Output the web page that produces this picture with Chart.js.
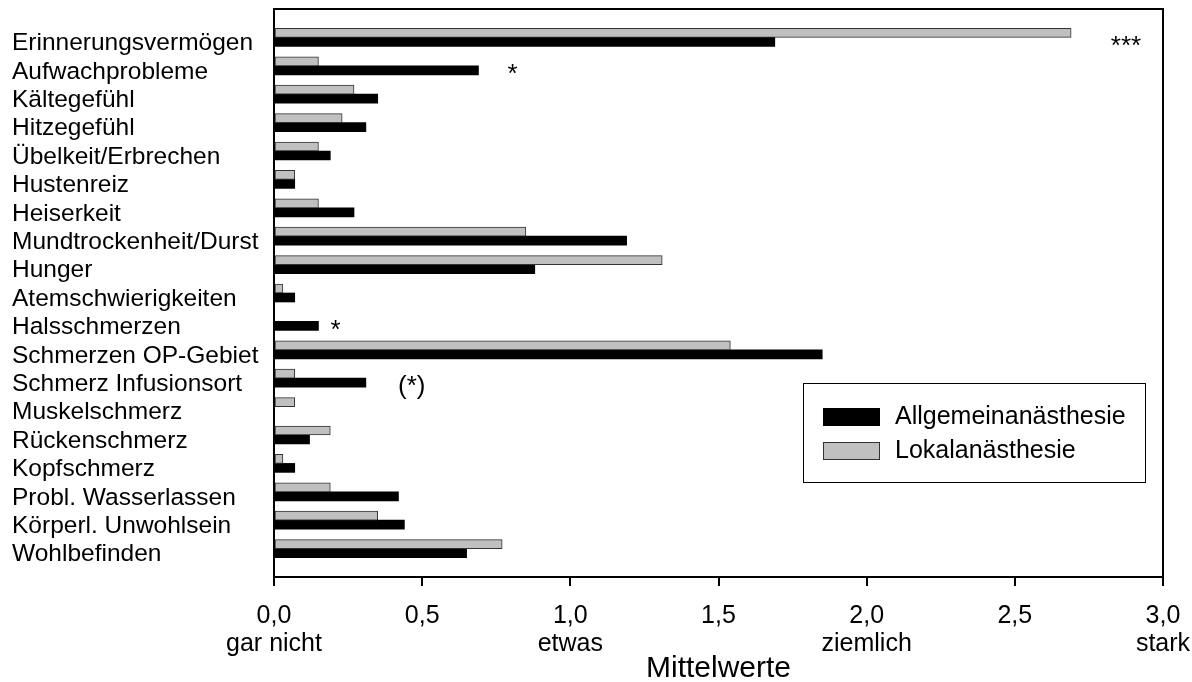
<!DOCTYPE html>
<html>
<head>
<meta charset="utf-8">
<script src="https://cdn.jsdelivr.net/npm/chart.js@4/dist/chart.umd.min.js"></script>
<style>
  html, body { margin: 0; padding: 0; background: #ffffff; }
  #wrap { width: 1192px; height: 682px; }
</style>
</head>
<body>
<div id="wrap"><canvas id="c" width="1192" height="682"></canvas></div>
<script>
const categories = [
  'Erinnerungsvermögen', 'Aufwachprobleme', 'Kältegefühl', 'Hitzegefühl',
  'Übelkeit/Erbrechen', 'Hustenreiz', 'Heiserkeit', 'Mundtrockenheit/Durst',
  'Hunger', 'Atemschwierigkeiten', 'Halsschmerzen', 'Schmerzen OP-Gebiet',
  'Schmerz Infusionsort', 'Muskelschmerz', 'Rückenschmerz', 'Kopfschmerz',
  'Probl. Wasserlassen', 'Körperl. Unwohlsein', 'Wohlbefinden'
];
const allgemein = [1.69, 0.69, 0.35, 0.31, 0.19, 0.07, 0.27, 1.19, 0.88, 0.07, 0.15, 1.85, 0.31, 0, 0.12, 0.07, 0.42, 0.44, 0.65];
const lokal     = [2.69, 0.15, 0.27, 0.23, 0.15, 0.07, 0.15, 0.85, 1.31, 0.03, 0, 1.54, 0.07, 0.07, 0.19, 0.03, 0.19, 0.35, 0.77];
const seriesNames = ['Allgemeinanästhesie', 'Lokalanästhesie'];
const xTickNumbers = ['0,0', '0,5', '1,0', '1,5', '2,0', '2,5', '3,0'];
const xTickWords = ['gar nicht', '', 'etwas', '', 'ziemlich', '', 'stark'];
const xTitle = 'Mittelwerte';
const sigRows = [0, 1, 10, 12];
const sigValues = [2.875, 0.805, 0.208, 0.465];
const sigMarks = ['***', '*', '*', '(*)'];

const FONT = "'Liberation Sans', Arial, sans-serif";

const framePlugin = {
  id: 'frame',
  afterDatasetsDraw(chart) {
    const a = chart.chartArea, ctx = chart.ctx;
    ctx.save();
    ctx.strokeStyle = '#000';
    ctx.lineWidth = 2;
    ctx.beginPath();
    ctx.moveTo(a.left, a.top); ctx.lineTo(a.right, a.top); ctx.lineTo(a.right, a.bottom);
    ctx.stroke();
    ctx.restore();
  }
};

const sigPlugin = {
  id: 'sig',
  afterDatasetsDraw(chart) {
    const ctx = chart.ctx, xs = chart.scales.x, ys = chart.scales.y;
    ctx.save();
    ctx.fillStyle = '#000';
    ctx.font = '26px ' + FONT;
    ctx.textAlign = 'center';
    ctx.textBaseline = 'middle';
    sigRows.forEach((r, i) => {
      ctx.fillText(sigMarks[i], xs.getPixelForValue(sigValues[i]), ys.getPixelForValue(r) + 9);
    });
    ctx.restore();
  }
};

const boxLegendPlugin = {
  id: 'boxLegend',
  afterDraw(chart) {
    const ctx = chart.ctx;
    const bx = 803, by = 383, bw = 342, bh = 99;
    ctx.save();
    ctx.fillStyle = '#fff';
    ctx.fillRect(bx, by, bw, bh);
    ctx.strokeStyle = '#000';
    ctx.lineWidth = 1;
    ctx.strokeRect(bx + 0.5, by + 0.5, bw, bh);
    ctx.font = '25px ' + FONT;
    ctx.textBaseline = 'middle';
    ctx.textAlign = 'left';
    const order = [1, 0];
    order.forEach((di, k) => {
      const ds = chart.data.datasets[di];
      const sy = by + 25 + k * 34;
      ctx.fillStyle = ds.backgroundColor;
      ctx.fillRect(bx + 20, sy, 57, 18);
      if (ds.borderWidth) {
        ctx.strokeStyle = ds.borderColor;
        ctx.lineWidth = 1;
        ctx.strokeRect(bx + 20.5, sy + 0.5, 56, 17);
      }
      ctx.fillStyle = '#000';
      ctx.fillText(ds.label, bx + 92, sy + 9);
    });
    ctx.restore();
  }
};

new Chart(document.getElementById('c'), {
  type: 'bar',
  data: {
    datasets: [
      {
        label: seriesNames[1],
        data: lokal.map((v, i) => ({ x: v, y: i })),
        backgroundColor: '#c0c0c0',
        borderColor: '#333333',
        borderWidth: 1,
        borderSkipped: false,
        barThickness: 9
      },
      {
        label: seriesNames[0],
        data: allgemein.map((v, i) => ({ x: v, y: i })),
        backgroundColor: '#000000',
        borderColor: '#000000',
        borderWidth: 0,
        barThickness: 9
      }
    ]
  },
  options: {
    indexAxis: 'y',
    responsive: false,
    animation: false,
    devicePixelRatio: 1,
    layout: { padding: { left: 12, top: 9, right: 29, bottom: 0 } },
    plugins: { legend: { display: false }, tooltip: { enabled: false } },
    scales: {
      x: {
        type: 'linear',
        min: 0, max: 3,
        afterFit(s) { s.height = 105; s.paddingLeft = 0; s.paddingRight = 0; },
        ticks: {
          stepSize: 0.5,
          color: '#000',
          padding: 16,
          font: { family: FONT, size: 25, lineHeight: 28 / 25 },
          callback(v, i) { return xTickWords[i] ? [xTickNumbers[i], xTickWords[i]] : xTickNumbers[i]; }
        },
        grid: { drawOnChartArea: false, drawTicks: true, tickLength: 9, color: '#000', lineWidth: 2 },
        border: { color: '#000', width: 2 },
        title: { display: true, text: xTitle, color: '#000', font: { family: FONT, size: 30, lineHeight: 0.9 }, padding: { top: 0, bottom: 0 } }
      },
      y: {
        type: 'linear',
        reverse: true,
        offset: false,
        min: -1, max: 19,
        afterFit(s) { s.width = 262; s.paddingTop = 0; s.paddingBottom = 0; },
        ticks: {
          stepSize: 1,
          autoSkip: false,
          crossAlign: 'far',
          labelOffset: 6,
          color: '#000',
          font: { family: FONT, size: 24.5 },
          callback(v) { return (v >= 0 && v < categories.length) ? categories[v] : ''; }
        },
        grid: { display: false },
        border: { color: '#000', width: 2 }
      }
    }
  },
  plugins: [framePlugin, sigPlugin, boxLegendPlugin]
});
</script>
</body>
</html>
